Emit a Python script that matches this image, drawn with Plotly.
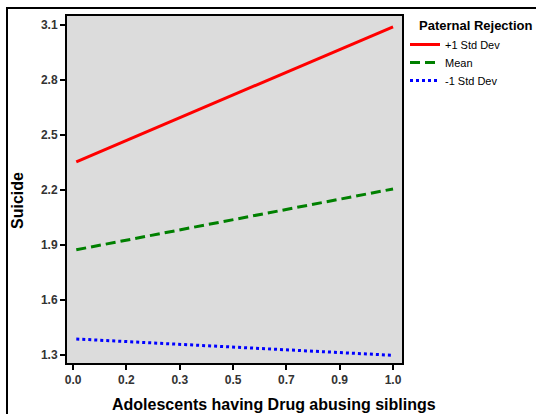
import plotly.graph_objects as go

# Simple-slopes data: suicide score vs. drug-abusing siblings at three levels of paternal rejection
x_vals = [0.01, 1.0]
plus_sd = [2.353, 3.09]
mean_vals = [1.873, 2.205]
minus_sd = [1.386, 1.297]

series_names = ["+1 Std Dev", "Mean", "-1 Std Dev"]
series_colors = ["#FF0000", "#008000", "#0000FF"]
series_dash = ["solid", "10px,5px", "3px,3px"]

x_tickvals = [0.0, 1 / 6, 2 / 6, 3 / 6, 4 / 6, 5 / 6, 1.0]
x_ticktext = ["0.0", "0.2", "0.3", "0.5", "0.7", "0.9", "1.0"]
y_tickvals = [1.3, 1.6, 1.9, 2.2, 2.5, 2.8, 3.1]
y_ticktext = ["1.3", "1.6", "1.9", "2.2", "2.5", "2.8", "3.1"]

FONT = "Liberation Sans, Arial, sans-serif"

W, H = 536, 414
L, R, T, B = 67, 134, 16, 51
pw, ph = W - L - R, H - T - B

def px_x(p):
    return (p - L) / pw

def px_y(p):
    return (H - B - p) / ph

legend_ids = ["legend", "legend2", "legend3"]
legend_tops = [30, 48, 66]

fig = go.Figure()
for name, ys, color, dash, lid in zip(series_names, [plus_sd, mean_vals, minus_sd],
                                      series_colors, series_dash, legend_ids):
    fig.add_trace(go.Scatter(
        x=x_vals, y=ys, mode="lines", name=name, legend=lid,
        line=dict(color=color, width=3, dash=dash),
    ))

tick_font = dict(size=12, family=FONT, color="#333", weight="bold")

legend_style = dict(
    xanchor="left", yanchor="top",
    font=dict(size=11, family=FONT, color="#000"),
    bgcolor="rgba(0,0,0,0)", itemwidth=30,
)

fig.update_layout(
    width=W, height=H,
    margin=dict(l=L, r=R, t=T, b=B, pad=0, autoexpand=False),
    paper_bgcolor="white",
    plot_bgcolor="#DCDCDC",
    font=dict(family=FONT, color="#000000"),
    showlegend=True,
    xaxis=dict(
        range=[-0.019, 1.028], automargin=False,
        tickvals=x_tickvals, ticktext=x_ticktext,
        ticks="outside", ticklen=5, tickwidth=2, tickcolor="#000",
        tickfont=tick_font,
        showgrid=False, zeroline=False,
        showline=True, linecolor="#000", linewidth=2, mirror=True,
    ),
    yaxis=dict(
        range=[1.255, 3.149], automargin=False,
        tickvals=y_tickvals, ticktext=y_ticktext,
        ticks="outside", ticklen=5, tickwidth=2, tickcolor="#000",
        tickfont=tick_font,
        showgrid=False, zeroline=False,
        showline=True, linecolor="#000", linewidth=2, mirror=True,
    ),
)
for lid, top in zip(legend_ids, legend_tops):
    fig.update_layout({lid: dict(x=px_x(405), y=px_y(top), **legend_style)})

# Axis titles
fig.add_annotation(
    text="<b>Adolescents having Drug abusing siblings</b>", xref="paper", yref="paper",
    x=px_x(274), y=px_y(405), xanchor="center", yanchor="middle",
    showarrow=False, font=dict(size=16, family=FONT, color="#000"),
)
fig.add_annotation(
    text="<b>Suicide</b>", xref="paper", yref="paper", textangle=-90,
    x=px_x(17), y=px_y(201), xanchor="center", yanchor="middle",
    showarrow=False, font=dict(size=16, family=FONT, color="#000"),
)

# Legend heading
fig.add_annotation(
    text="<b>Paternal Rejection</b>", xref="paper", yref="paper",
    x=px_x(417), y=px_y(25), xanchor="left", yanchor="middle",
    showarrow=False, font=dict(size=13, family=FONT, color="#000"),
)

# Outer frame around the chart
fig.add_shape(
    type="path", xref="paper", yref="paper",
    path=f"M {px_x(7)} {px_y(420)} L {px_x(7)} {px_y(8)} L {px_x(540)} {px_y(8)}",
    line=dict(color="#000", width=2),
)

fig.write_html("out.html")
